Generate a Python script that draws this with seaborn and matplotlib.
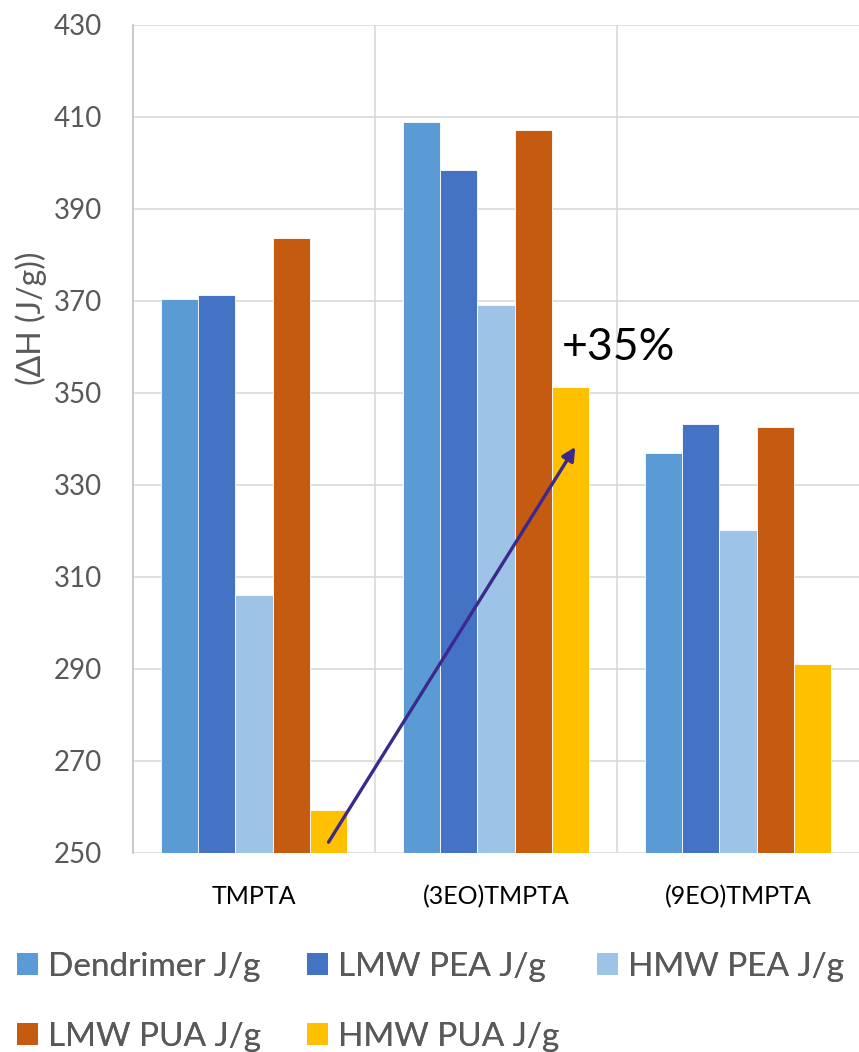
import matplotlib
matplotlib.use("Agg")
import matplotlib.pyplot as plt
import seaborn as sns
import pandas as pd
from matplotlib.patches import Patch

# Enthalpy of polymerisation per monomer / oligomer blend
categories = ["TMPTA", "(3EO)TMPTA", "(9EO)TMPTA"]
series = ["Dendrimer J/g", "LMW PEA J/g", "HMW PEA J/g", "LMW PUA J/g", "HMW PUA J/g"]
dendrimer = [370.4, 408.8, 336.8]
lmw_pea = [371.2, 398.4, 343.2]
hmw_pea = [306.0, 369.1, 320.2]
lmw_pua = [383.6, 407.1, 342.5]
hmw_pua = [259.3, 351.2, 291.0]
colors = ["#5B9BD5", "#4472C4", "#9DC3E6", "#C55A11", "#FFC000"]
y_ticks = [250, 270, 290, 310, 330, 350, 370, 390, 410, 430]

values = [dendrimer, lmw_pea, hmw_pea, lmw_pua, hmw_pua]
df = pd.DataFrame(
    [(c, s, v[i]) for s, v in zip(series, values) for i, c in enumerate(categories)],
    columns=["monomer", "series", "dH"],
)

sns.set_theme(style="white")
plt.rcParams["font.family"] = ["Lato", "DejaVu Sans"]

fig = plt.figure(figsize=(8.59, 10.52), dpi=100)
ax = fig.add_axes([0.1548, 0.1894, 0.8452, 0.7873])

sns.barplot(
    data=df, x="monomer", y="dH", hue="series", order=categories,
    hue_order=series, palette=colors, width=0.77, ax=ax,
    edgecolor="white", linewidth=0.6, legend=False, saturation=1,
)

ax.set_ylim(y_ticks[0], y_ticks[-1])
ax.set_xlim(-0.5, len(categories) - 0.5)
ax.set_yticks(y_ticks)
ax.set_yticklabels([str(t) for t in y_ticks])
ax.grid(axis="y", color="#d9d9d9", linewidth=1.2)
ax.set_axisbelow(True)
# vertical separators between category groups
for b in range(1, len(categories)):
    ax.axvline(b - 0.5, color="#d9d9d9", linewidth=1.2, zorder=0)

for side in ["top", "right", "bottom"]:
    ax.spines[side].set_visible(False)
ax.spines["left"].set_color("#bfbfbf")
ax.spines["left"].set_linewidth(1.2)

ax.tick_params(axis="y", length=0, pad=22, labelsize=20, labelcolor="#595959")
ax.tick_params(axis="x", length=0, pad=23, labelsize=18, labelcolor="#000000")
ax.set_xlabel("")
ax.set_ylabel("(ΔH (J/g))", fontsize=23, color="#595959")
ax.yaxis.set_label_coords(-0.118, 0.645)

# arrow from TMPTA HMW PUA bar to (3EO)TMPTA HMW PUA bar
n = len(series)
bar_w = 0.77 / n
off = -0.77 / 2 + bar_w * (n - 0.5)
start = (0 + off, hmw_pua[0] - 7)
end = (1 + off + 0.02, hmw_pua[1] - 13)
ax.annotate(
    "", xy=end, xytext=start,
    arrowprops=dict(arrowstyle="-|>", color="#3B2A8C", lw=2.4, mutation_scale=20,
                    shrinkA=0, shrinkB=0),
    zorder=5,
)
pct = (hmw_pua[1] - hmw_pua[0]) / hmw_pua[0] * 100
ax.text(1 + off - bar_w / 2 + 0.04, hmw_pua[1] + 8.5, f"+{pct:.0f}%",
        fontsize=32, color="black", ha="left", va="center")

# legend laid out in fixed-width columns, filled row by row
handles = [Patch(facecolor=c, edgecolor="none") for c in colors]
columns = [[0, 3], [1, 4], [2]]
col_x = [17, 307, 597]
for idx, x0 in zip(columns, col_x):
    leg = fig.legend(
        [handles[i] for i in idx], [series[i] for i in idx],
        loc="upper left", bbox_to_anchor=(x0 / 859, 1 - 952 / 1052), frameon=False,
        fontsize=24, labelcolor="#595959", handlelength=0.63, handleheight=0.63,
        handletextpad=0.3, labelspacing=1.2, borderpad=0, borderaxespad=0,
    )
    fig.add_artist(leg)

fig.savefig("out.png", dpi=100)
